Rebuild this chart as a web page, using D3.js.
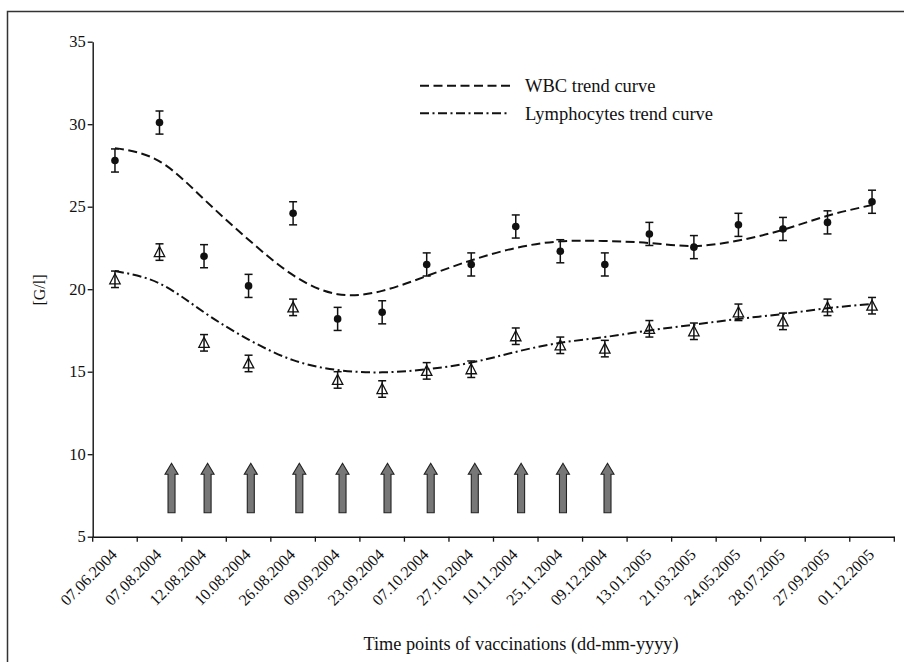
<!DOCTYPE html>
<html>
<head>
<meta charset="utf-8">
<script src="https://cdn.jsdelivr.net/npm/d3@7"></script>
<style>
body { margin: 0; background: #fff; }
svg text { font-family: "Liberation Serif", "DejaVu Serif", serif; fill: #111; }
</style>
</head>
<body>
<div id="chart"></div>
<script>

var dates = ["07.06.2004", "07.08.2004", "12.08.2004", "10.08.2004", "26.08.2004", "09.09.2004",
  "23.09.2004", "07.10.2004", "27.10.2004", "10.11.2004", "25.11.2004", "09.12.2004",
  "13.01.2005", "21.03.2005", "24.05.2005", "28.07.2005", "27.09.2005", "01.12.2005"];

var wbc = [27.8, 30.1, 22.0, 20.2, 24.6, 18.2, 18.6, 21.5, 21.5, 23.8, 22.3, 21.5,
  23.35, 22.55, 23.9, 23.65, 24.05, 25.3];
var wbc_err = [0.7, 0.7, 0.7, 0.7, 0.7, 0.7, 0.7, 0.7, 0.7, 0.7, 0.7, 0.7,
  0.7, 0.7, 0.7, 0.7, 0.7, 0.7];

var lymph = [20.6, 22.25, 16.75, 15.5, 18.9, 14.5, 13.95, 15.05, 15.15, 17.15, 16.6, 16.4,
  17.6, 17.45, 18.6, 18.05, 18.9, 19.0];
var lymph_err = [0.5, 0.5, 0.5, 0.5, 0.5, 0.5, 0.5, 0.5, 0.5, 0.5, 0.5, 0.5,
  0.5, 0.5, 0.5, 0.5, 0.5, 0.5];

var wbc_trend = [28.55, 27.75, 25.45, 23.0, 20.85, 19.7, 19.9, 20.8, 21.75, 22.5, 22.9, 22.92,
  22.8, 22.62, 22.95, 23.6, 24.45, 25.1];
var lymph_trend = [21.1, 20.35, 18.6, 16.95, 15.7, 15.1, 14.96, 15.15, 15.55, 16.2, 16.75, 17.1,
  17.5, 17.85, 18.2, 18.5, 18.85, 19.1];

// vaccination times, in units of the date index
var vaccinations = [1.27, 2.08, 3.05, 4.14, 5.11, 6.12, 7.09, 8.08, 9.12, 10.06, 11.06];

var y_ticks = [5, 10, 15, 20, 25, 30, 35];

var legend_items = [
  {label: "WBC trend curve", dash: "9,4.5"},
  {label: "Lymphocytes trend curve", dash: "9,3.5,2,3.5"}
];

var width = 904, height = 662;

var svg = d3.select("#chart").append("svg")
  .attr("width", width)
  .attr("height", height);

// frame of the figure
svg.append("path")
  .attr("d", "M7.5," + height + " V11.5 H" + width)
  .attr("fill", "none")
  .attr("stroke", "#333")
  .attr("stroke-width", 1.5);

var x = d3.scaleBand().domain(dates).range([92.7, 894.3]).padding(0);
var y = d3.scaleLinear().domain([5, 35]).range([536.7, 41.7]);

var xi = d3.scaleLinear()
  .domain([0, dates.length - 1])
  .range([x(dates[0]) + x.bandwidth() / 2, x(dates[dates.length - 1]) + x.bandwidth() / 2]);

//Y axis
var y_axis = d3.axisLeft(y).tickValues(y_ticks).tickSize(5).tickSizeOuter(0).tickPadding(2);
var gy = svg.append("g")
  .attr("transform", "translate(92.7,0)")
  .call(y_axis);
gy.select(".domain").attr("stroke", "#111").attr("stroke-width", 1.4);
gy.selectAll(".tick line").attr("stroke", "#111").attr("stroke-width", 1.3);
gy.selectAll("text").style("font-size", "16.5px").attr("fill", "#111");

//X axis
var x_axis = d3.axisBottom(x).tickSize(0).tickSizeOuter(0);
var gx = svg.append("g")
  .attr("transform", "translate(0,536.7)")
  .call(x_axis);
gx.select(".domain").attr("stroke", "#111").attr("stroke-width", 1.4);
gx.selectAll("text")
  .style("font-size", "16px")
  .attr("fill", "#111")
  .style("text-anchor", "end")
  .attr("x", 0)
  .attr("y", 0)
  .attr("dy", 0)
  .attr("transform", "translate(3,19) rotate(-45)");

var boundaries = dates.map(function(d) { return x(d); }).concat([x.range()[1]]);
gx.selectAll(".bound")
  .data(boundaries)
  .enter()
  .append("line")
  .attr("class", "bound")
  .attr("x1", function(d) { return d; })
  .attr("x2", function(d) { return d; })
  .attr("y1", 0)
  .attr("y2", 5)
  .attr("stroke", "#111")
  .attr("stroke-width", 1.3);

//Axis titles
svg.append("text")
  .attr("x", 521)
  .attr("y", 650)
  .style("text-anchor", "middle")
  .style("font-size", "18.3px")
  .text("Time points of vaccinations (dd-mm-yyyy)");

svg.append("text")
  .attr("transform", "translate(45,290) rotate(-90)")
  .style("text-anchor", "middle")
  .style("font-size", "16px")
  .text("[G/l]");

//Vaccination arrows
var arrow_bottom = y(6.45), arrow_top = y(9.45);
svg.selectAll(".arrow")
  .data(vaccinations)
  .enter()
  .append("path")
  .attr("class", "arrow")
  .attr("d", function(d) {
    var cx = xi(d);
    return "M" + (cx - 3.5) + "," + arrow_bottom +
      " V" + (arrow_top + 11) +
      " H" + (cx - 6.5) +
      " L" + cx + "," + arrow_top +
      " L" + (cx + 6.5) + "," + (arrow_top + 11) +
      " H" + (cx + 3.5) +
      " V" + arrow_bottom + " Z";
  })
  .attr("fill", "#777")
  .attr("stroke", "#222")
  .attr("stroke-width", 1.1);

//Trend curves
var line = d3.line()
  .x(function(d, i) { return xi(i); })
  .y(function(d) { return y(d); })
  .curve(d3.curveNatural);

svg.append("path")
  .attr("d", line(wbc_trend))
  .attr("fill", "none")
  .attr("stroke", "#111")
  .attr("stroke-width", 2)
  .attr("stroke-dasharray", legend_items[0].dash);

svg.append("path")
  .attr("d", line(lymph_trend))
  .attr("fill", "none")
  .attr("stroke", "#111")
  .attr("stroke-width", 2)
  .attr("stroke-dasharray", legend_items[1].dash);

//Error bars
function add_errors(values, errors, cls) {
  var g = svg.selectAll("." + cls)
    .data(values)
    .enter()
    .append("g")
    .attr("class", cls)
    .attr("transform", function(d, i) { return "translate(" + xi(i) + ",0)"; });

  g.append("line")
    .attr("x1", 0).attr("x2", 0)
    .attr("y1", function(d, i) { return y(d + errors[i]); })
    .attr("y2", function(d, i) { return y(d - errors[i]); });
  g.append("line")
    .attr("x1", -4).attr("x2", 4)
    .attr("y1", function(d, i) { return y(d + errors[i]); })
    .attr("y2", function(d, i) { return y(d + errors[i]); });
  g.append("line")
    .attr("x1", -4).attr("x2", 4)
    .attr("y1", function(d, i) { return y(d - errors[i]); })
    .attr("y2", function(d, i) { return y(d - errors[i]); });
  g.selectAll("line").attr("stroke", "#111").attr("stroke-width", 1.5);
  return g;
}

add_errors(wbc, wbc_err, "wbc_err");
var lg = add_errors(lymph, lymph_err, "lymph_err");

svg.selectAll(".dot")
  .data(wbc)
  .enter()
  .append("circle")
  .attr("class", "dot")
  .attr("cx", function(d, i) { return xi(i); })
  .attr("cy", function(d) { return y(d); })
  .attr("r", 3.8)
  .attr("fill", "#111");

lg.append("path")
  .attr("d", function(d) {
    var cy = y(d);
    return "M0," + (cy - 5.5) + " L5.2," + (cy + 4.5) + " L-5.2," + (cy + 4.5) + " Z";
  })
  .attr("fill", "none")
  .attr("stroke", "#111")
  .attr("stroke-width", 1.3);

//Legend
var legend = svg.selectAll(".legend")
  .data(legend_items)
  .enter()
  .append("g")
  .attr("class", "legend")
  .attr("transform", function(d, i) { return "translate(420," + (85.7 + i * 27.6) + ")"; });

legend.append("line")
  .attr("x1", 0).attr("x2", 90)
  .attr("y1", 0).attr("y2", 0)
  .attr("stroke", "#111")
  .attr("stroke-width", 2)
  .attr("stroke-dasharray", function(d) { return d.dash; });

legend.append("text")
  .attr("x", 105)
  .attr("y", 6.5)
  .style("font-size", "18.5px")
  .text(function(d) { return d.label; });

</script>
</body>
</html>
